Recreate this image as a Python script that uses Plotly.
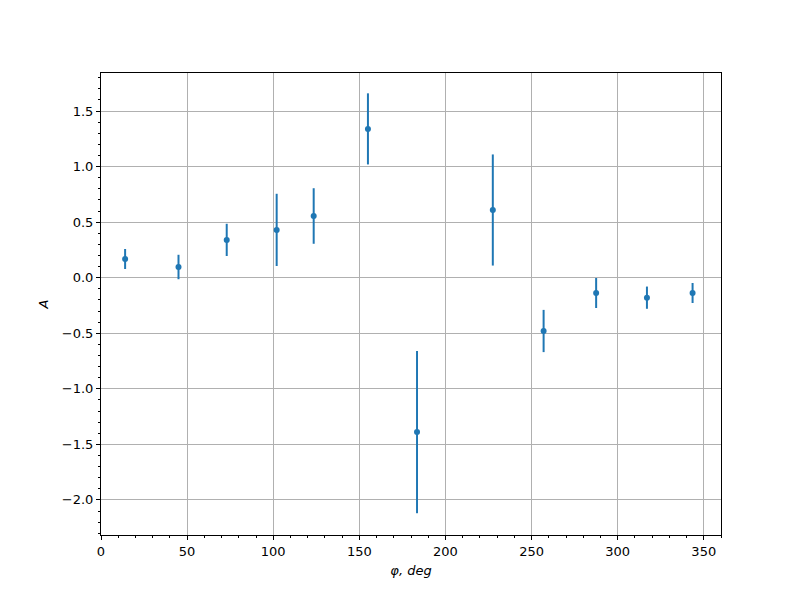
import plotly.graph_objects as go

phi = [14, 45, 73, 102, 123.5, 155, 183.5, 227.5, 257, 287.5, 317, 343.5]
A = [0.168, 0.096, 0.34, 0.43, 0.555, 1.339, -1.39, 0.609, -0.48, -0.138, -0.18, -0.138]
A_err = [0.09, 0.11, 0.145, 0.325, 0.25, 0.32, 0.73, 0.5, 0.19, 0.135, 0.1, 0.09]

x_ticks = [0, 50, 100, 150, 200, 250, 300, 350]
y_ticks = [-2.0, -1.5, -1.0, -0.5, 0.0, 0.5, 1.0, 1.5]

fig = go.Figure()
fig.add_trace(go.Scatter(
    x=phi, y=A, mode="markers",
    marker=dict(color="#1f77b4", size=6),
    error_y=dict(type="data", array=A_err, visible=True, color="#1f77b4", thickness=2, width=0),
    showlegend=False,
))

axis_common = dict(
    showline=True, linecolor="black", linewidth=1, mirror=True,
    ticks="outside", ticklen=4, tickwidth=1, tickcolor="black",
    showgrid=True, gridcolor="#b0b0b0", gridwidth=1, zeroline=False,
    tickfont=dict(family="DejaVu Sans", size=13, color="black"),
)

fig.update_xaxes(
    range=[0, 360], tickvals=x_ticks, ticktext=[str(v) for v in x_ticks],
    minor=dict(dtick=10, tick0=0, ticks="outside", ticklen=2, tickcolor="black", showgrid=False),
    title=dict(text="<i>φ, deg</i>", font=dict(family="DejaVu Sans", size=13, color="black"), standoff=8),
    **axis_common,
)
fig.update_yaxes(
    range=[-2.316, 1.842], tickvals=y_ticks, ticktext=[("\u2212" if v < 0 else "") + f"{abs(v):.1f}" for v in y_ticks],
    minor=dict(dtick=0.1, tick0=0, ticks="outside", ticklen=2, tickcolor="black", showgrid=False),
    title=dict(text="<i>A</i>", font=dict(family="DejaVu Sans", size=13, color="black"), standoff=10),
    **axis_common,
)

fig.update_layout(
    width=800, height=600,
    margin=dict(l=93, r=87, t=65, b=73),
    plot_bgcolor="white", paper_bgcolor="white",
    font=dict(family="DejaVu Sans", size=13, color="black"),
)

fig.write_html("out.html")
